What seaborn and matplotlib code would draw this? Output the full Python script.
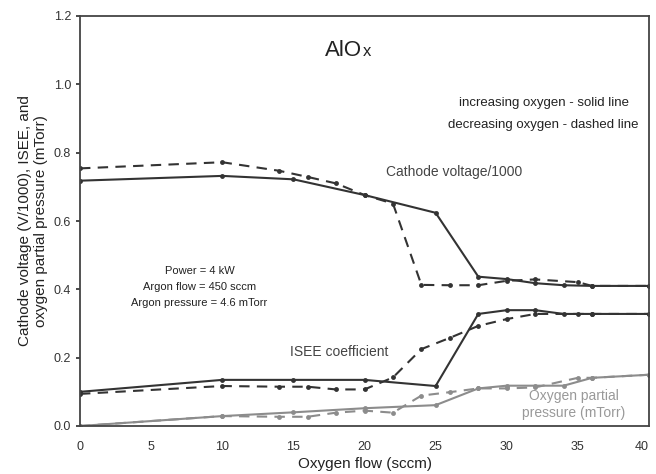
import matplotlib
matplotlib.use("Agg")
import matplotlib.pyplot as plt
import matplotlib.transforms as mtransforms
import seaborn as sns
import pandas as pd

inc_flow = [0, 10, 15, 20, 25, 28, 30, 32, 34, 36, 40]
inc_voltage = [0.718, 0.732, 0.722, 0.676, 0.624, 0.437, 0.430, 0.418, 0.412, 0.410, 0.410]
inc_isee = [0.100, 0.135, 0.135, 0.135, 0.117, 0.328, 0.339, 0.339, 0.328, 0.328, 0.328]
inc_o2 = [0.0, 0.029, 0.040, 0.052, 0.061, 0.110, 0.118, 0.118, 0.118, 0.141, 0.150]

dec_flow = [0, 10, 14, 16, 18, 20, 22, 24, 26, 28, 30, 32, 35, 36, 40]
dec_voltage = [0.754, 0.772, 0.747, 0.729, 0.710, 0.676, 0.651, 0.413, 0.412, 0.412, 0.425, 0.429, 0.421, 0.410, 0.410]
dec_isee = [0.094, 0.117, 0.115, 0.115, 0.107, 0.107, 0.142, 0.225, 0.258, 0.293, 0.313, 0.328, 0.328, 0.328, 0.328]
dec_o2 = [0.0, 0.029, 0.027, 0.027, 0.039, 0.045, 0.039, 0.089, 0.099, 0.110, 0.110, 0.113, 0.141, 0.141, 0.150]

x_ticks = [0, 5, 10, 15, 20, 25, 30, 35, 40]
y_ticks = [0.0, 0.2, 0.4, 0.6, 0.8, 1.0, 1.2]

sns.set_theme(style="white")
plt.rcParams['font.family'] = ['Liberation Sans', 'DejaVu Sans']

fig = plt.figure(figsize=(6.56, 4.74), dpi=100)
ax = fig.add_axes([80/656, 1-426/474, (649-80)/656, (426-16)/474])

dark = "#333333"
gray = "#8c8c8c"

inc = pd.DataFrame({"flow": inc_flow, "v": inc_voltage, "isee": inc_isee, "o2": inc_o2})
dec = pd.DataFrame({"flow": dec_flow, "v": dec_voltage, "isee": dec_isee, "o2": dec_o2})

for col, color in [("v", dark), ("isee", dark), ("o2", gray)]:
    sns.lineplot(data=inc, x="flow", y=col, ax=ax, color=color, lw=1.5,
                 marker="o", markersize=3.5, markeredgewidth=0, sort=False)
    l = sns.lineplot(data=dec, x="flow", y=col, ax=ax, color=color, lw=1.5,
                     marker="o", markersize=3.5, markeredgewidth=0, sort=False)
    l.lines[-1].set_dashes([5, 3.5])

ax.set_xlim(0, 40)
ax.set_ylim(0, 1.2)
ax.set_xticks(x_ticks)
ax.set_xticklabels([str(v) for v in x_ticks])
ax.set_yticks(y_ticks)
ax.set_yticklabels([f"{v:.1f}" for v in y_ticks])
ax.tick_params(axis="both", labelsize=9, colors="#333333", length=3, direction="out",
               left=True, bottom=False)
ax.tick_params(axis="x", pad=8)
last = ax.get_xticklabels()[-1]
last.set_transform(last.get_transform() + mtransforms.ScaledTranslation(-5/72, 0, fig.dpi_scale_trans))
for s in ax.spines.values():
    s.set_color("#444444")
    s.set_linewidth(1.3)

ax.set_xlabel("Oxygen flow (sccm)", fontsize=11, color="#222222", labelpad=3)
ax.set_ylabel("Cathode voltage (V/1000), ISEE, and\noxygen partial pressure (mTorr)",
              fontsize=11, color="#222222", labelpad=4)

t1 = ax.text(17.2, 1.084, "AlO", fontsize=16, color="#222222", ha="left", va="baseline")
fig.canvas.draw()
bb = t1.get_window_extent()
xr = ax.transData.inverted().transform((bb.x1, 0))[0]
ax.text(xr + 0.05, 1.084, "x", fontsize=12, color="#222222", ha="left", va="baseline")

ax.text(32.6, 0.946, "increasing oxygen - solid line", fontsize=9.5, color="#222222", ha="center", va="center")
ax.text(32.6, 0.880, "decreasing oxygen - dashed line", fontsize=9.5, color="#222222", ha="center", va="center")
ax.text(26.3, 0.744, "Cathode voltage/1000", fontsize=10, color="#444444", ha="center", va="center")
ax.text(8.4, 0.453, "Power = 4 kW", fontsize=8, color="#222222", ha="center", va="center")
ax.text(8.4, 0.408, "Argon flow = 450 sccm", fontsize=8, color="#222222", ha="center", va="center")
ax.text(8.4, 0.361, "Argon pressure = 4.6 mTorr", fontsize=8, color="#222222", ha="center", va="center")
ax.text(18.2, 0.216, "ISEE coefficient", fontsize=10, color="#444444", ha="center", va="center")
ax.text(34.7, 0.063, "Oxygen partial\npressure (mTorr)", fontsize=10, color="#999999",
        ha="center", va="center", linespacing=1.3)

fig.savefig("out.png", dpi=100)
